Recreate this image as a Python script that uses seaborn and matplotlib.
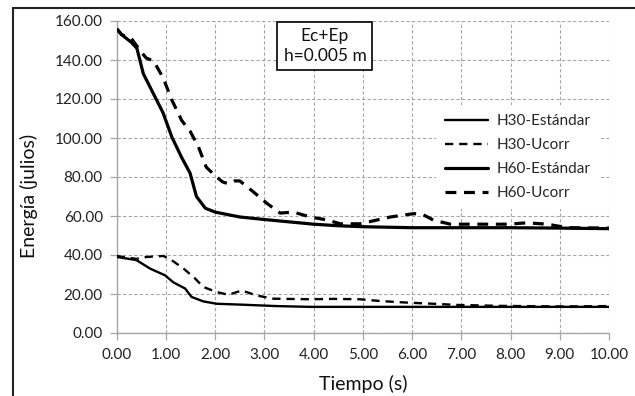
import numpy as np
import pandas as pd
import matplotlib
matplotlib.use("Agg")
import matplotlib.pyplot as plt
import seaborn as sns
from matplotlib.lines import Line2D

# ---- data ----
t_h60_std = [0.00, 0.10, 0.30, 0.41, 0.54, 0.74, 0.94, 1.12, 1.32, 1.49, 1.62, 1.80, 2.00, 2.50,
             3.00, 3.50, 4.00, 4.50, 5.00, 6.00, 7.00, 8.00, 9.00, 10.00]
e_h60_std = [156.0, 153.0, 149.0, 146.0, 133.0, 123.0, 113.0, 100.5, 90.0, 82.0, 70.0, 64.0, 62.0, 59.5,
             58.2, 57.0, 55.8, 55.0, 54.5, 54.0, 54.0, 54.0, 53.8, 53.5]

t_h60_uc = [0.00, 0.10, 0.30, 0.47, 0.60, 0.75, 0.94, 1.12, 1.32, 1.49, 1.66, 1.82, 2.03, 2.15, 2.27, 2.40, 2.50,
            2.77, 3.05, 3.32, 3.59, 3.93, 4.27, 4.54, 4.94, 5.21, 5.56, 6.03, 6.20, 6.44, 6.78, 7.25, 7.93,
            8.34, 8.75, 9.15, 10.00]
e_h60_uc = [156.0, 153.0, 151.0, 145.0, 141.0, 139.5, 131.0, 119.5, 109.0, 103.5, 95.5, 85.0, 80.0, 77.5, 76.5,
            78.0, 78.0, 72.5, 66.5, 61.5, 62.0, 59.5, 58.0, 56.0, 56.0, 57.5, 59.5, 61.2, 61.0, 57.8, 55.8,
            55.8, 55.8, 56.5, 55.8, 54.0, 53.8]

t_h30_std = [0.00, 0.40, 0.68, 0.98, 1.15, 1.39, 1.52, 1.76, 2.03, 2.57, 3.25, 3.93, 5.00, 6.00, 7.00, 8.00,
             9.00, 10.00]
e_h30_std = [39.0, 37.4, 33.0, 29.6, 26.0, 22.8, 18.5, 16.2, 15.0, 14.5, 13.8, 13.4, 13.4, 13.4, 13.4, 13.4,
             13.4, 13.4]

t_h30_uc = [0.00, 0.40, 0.61, 0.95, 1.12, 1.36, 1.59, 1.76, 2.03, 2.27, 2.54, 2.85, 3.18, 3.93, 4.40, 4.94,
            5.35, 5.89, 6.43, 6.90, 7.80, 9.08, 10.00]
e_h30_uc = [39.5, 38.0, 39.0, 39.5, 37.3, 33.0, 28.0, 23.6, 21.0, 19.6, 21.8, 19.2, 17.6, 17.3, 17.5, 17.3,
            16.4, 15.6, 15.0, 14.4, 13.9, 13.6, 13.8]

series_names = ["H30-Estándar", "H30-Ucorr", "H60-Estándar", "H60-Ucorr"]
x_ticks = [0, 1, 2, 3, 4, 5, 6, 7, 8, 9, 10]
y_ticks = [0, 20, 40, 60, 80, 100, 120, 140, 160]
x_label = "Tiempo (s)"
y_label = "Energía (julios)"
note_text = "Ec+Ep\nh=0.005 m"

sns.set_theme(style="white")
plt.rcParams['font.family'] = ['Lato', 'DejaVu Sans']

fig = plt.figure(figsize=(6.35, 3.96), dpi=100)
ax = fig.add_axes([116.7 / 635, (396 - 333) / 396, (609 - 116.7) / 635, (333 - 21) / 396])

data = {
    "H30-Estándar": (t_h30_std, e_h30_std),
    "H30-Ucorr": (t_h30_uc, e_h30_uc),
    "H60-Estándar": (t_h60_std, e_h60_std),
    "H60-Ucorr": (t_h60_uc, e_h60_uc),
}
styles = {
    "H30-Estándar": dict(lw=1.7, dashes=None),
    "H30-Ucorr": dict(lw=1.7, dashes=(3.5, 2.5)),
    "H60-Estándar": dict(lw=2.3, dashes=None),
    "H60-Ucorr": dict(lw=2.3, dashes=(3.4, 2.4)),
}
handles = []
for name in series_names:
    t, e = data[name]
    df = pd.DataFrame({"t": t, "e": e})
    st = styles[name]
    sns.lineplot(data=df, x="t", y="e", ax=ax, color="black", lw=st["lw"], sort=False,
                 estimator=None, zorder=3)
    line = ax.lines[-1]
    if st["dashes"] is not None:
        line.set_dashes(st["dashes"])
    line.set_solid_capstyle("butt")
    line.set_solid_joinstyle("round")
    h = Line2D([0], [0], color="black", lw=st["lw"])
    if st["dashes"] is not None:
        h.set_dashes(st["dashes"])
    handles.append(h)

ax.set_xlim(0, 10)
ax.set_ylim(0, 160)
ax.set_xticks(x_ticks)
ax.set_yticks(y_ticks)
ax.set_xticklabels([f"{v:.2f}" for v in x_ticks])
ax.set_yticklabels([f"{v:.2f}" for v in y_ticks])
ax.grid(True, color="#A6A6A6", linestyle=(0, (3, 2)), linewidth=0.8, zorder=0)
ax.set_axisbelow(True)
for s in ["top", "right"]:
    ax.spines[s].set_visible(False)
for s in ["left", "bottom"]:
    ax.spines[s].set_color("#A6A6A6")
    ax.spines[s].set_linewidth(1.0)
ax.tick_params(axis="both", which="major", length=5, width=0.9, color="#A6A6A6",
               labelsize=11, labelcolor="#222222", left=True, bottom=True, direction="out")
ax.tick_params(axis="y", pad=5)
ax.tick_params(axis="x", pad=6)

ax.set_xlabel(x_label, fontsize=14, color="#111111")
ax.set_ylabel(y_label, fontsize=14, color="#111111")
ax.xaxis.set_label_coords(0.5, -0.135)
ax.yaxis.set_label_coords(-0.16, 0.44)

leg = ax.legend(handles, series_names, loc="upper left", bbox_to_anchor=(0.633, 0.756),
                frameon=True, fontsize=11, handlelength=2.8, handletextpad=0.6,
                labelspacing=0.66, borderpad=0.6)
leg.get_frame().set_facecolor("white")
leg.get_frame().set_edgecolor("none")
leg.get_frame().set_alpha(1.0)
leg.set_zorder(5)

ax.text(0.423, 0.92, note_text, transform=ax.transAxes, ha="center", va="center",
        fontsize=12.5, color="#111111", linespacing=1.35, zorder=6,
        bbox=dict(boxstyle="square,pad=0.35", facecolor="white", edgecolor="black", linewidth=1.2))

# outer chart border (left and top only visible)
fig.add_artist(Line2D([12.5 / 635, 12.5 / 635], [0, 1 - 7.5 / 396], transform=fig.transFigure,
                      color="#222222", lw=1.5))
fig.add_artist(Line2D([12.5 / 635, 1], [1 - 7.5 / 396, 1 - 7.5 / 396], transform=fig.transFigure,
                      color="#222222", lw=1.5))

fig.savefig("out.png", dpi=100)
